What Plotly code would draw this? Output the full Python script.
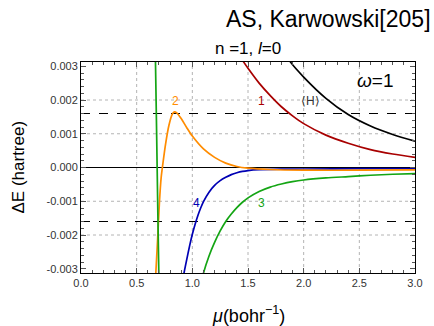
import plotly.graph_objects as go

# Energy deviation curves (hartree) versus range-separation parameter mu (1/bohr)
mu_H = [1.84, 1.88, 2.0, 2.2, 2.4, 2.6, 2.8, 3.0]
dE_H = [0.00335, 0.00313, 0.00268, 0.00205, 0.00157, 0.00123, 0.00098, 0.00078]

mu_1 = [1.42, 1.46, 1.5, 1.6, 1.7, 1.8, 1.9, 2.0, 2.2, 2.4, 2.6, 2.8, 3.0]
dE_1 = [0.00335, 0.00313, 0.00294, 0.00250, 0.00213, 0.00180, 0.00153, 0.00130,
        0.00096, 0.00072, 0.00053, 0.00040, 0.00030]

mu_2 = [0.665, 0.672, 0.69, 0.705, 0.72, 0.735, 0.76, 0.79, 0.82, 0.84, 0.86, 0.90,
        0.95, 1.0, 1.1, 1.2, 1.3, 1.4, 1.5, 1.7, 2.0, 2.5, 3.0]
dE_2 = [-0.0036, -0.00313, -0.0020, -0.0010, -0.0003, 0.0001, 0.0007, 0.00125,
        0.00158, 0.00165, 0.00162, 0.00145, 0.00118, 0.00093, 0.00055, 0.00030,
        0.00013, 0.00003, -0.00002, -0.00006, -0.00008, -0.00008, -0.00007]

mu_3a = [0.665, 0.669, 0.684, 0.699, 0.703]
dE_3a = [0.0036, 0.00313, 0.0, -0.00313, -0.0036]
mu_3b = [1.08, 1.10, 1.15, 1.20, 1.25, 1.30, 1.35, 1.40, 1.45, 1.50, 1.6, 1.7, 1.8, 1.9,
         2.0, 2.2, 2.4, 2.6, 2.8, 3.0]
dE_3b = [-0.00345, -0.00313, -0.00262, -0.00222, -0.00188, -0.00160, -0.00138, -0.00119,
         -0.00103, -0.00090, -0.00071, -0.00058, -0.00049, -0.00042, -0.00037, -0.00031,
         -0.00027, -0.00023, -0.00020, -0.00018]

mu_4 = [0.90, 0.925, 0.95, 0.975, 1.0, 1.025, 1.05, 1.075, 1.10, 1.15, 1.20, 1.25, 1.30,
        1.35, 1.40, 1.45, 1.5, 1.6, 1.8, 2.0, 2.5, 3.0]
dE_4 = [-0.0036, -0.00313, -0.00272, -0.00233, -0.00198, -0.00168, -0.00142, -0.00120,
        -0.00101, -0.00073, -0.00053, -0.00039, -0.00029, -0.00021, -0.000155, -0.000115,
        -0.00009, -0.000065, -0.00005, -0.000045, -0.000035, -0.00003]

x_ticks = [0.0, 0.5, 1.0, 1.5, 2.0, 2.5, 3.0]
x_tick_text = ["0.0", "0.5", "1.0", "1.5", "2.0", "2.5", "3.0"]
y_ticks = [-0.003, -0.002, -0.001, 0.0, 0.001, 0.002, 0.003]
y_tick_text = ["-0.003", "-0.002", "-0.001", "0.000", "0.001", "0.002", "0.003"]
x_grid = [0.5, 1.0, 1.5, 2.0, 2.5]
y_grid = [-0.002, -0.001, 0.001, 0.002]
threshold = 0.0016

RED = "#a80000"
ORANGE = "#ff8c00"
GREEN = "#14a514"
BLUE = "#0000b4"
FONT = "Liberation Sans, Arial, sans-serif"

fig = go.Figure()


def curve(x, y, color):
    fig.add_trace(go.Scatter(x=x, y=y, mode="lines",
                             line=dict(color=color, width=1.7, shape="spline", smoothing=0.8),
                             showlegend=False, hoverinfo="skip"))


curve(mu_H, dE_H, "black")
curve(mu_1, dE_1, RED)
curve(mu_4, dE_4, BLUE)
curve(mu_2, dE_2, ORANGE)
curve(mu_3a, dE_3a, GREEN)
curve(mu_3b, dE_3b, GREEN)

shapes = []
for gx in x_grid:
    shapes.append(dict(type="line", xref="x", yref="paper", x0=gx, x1=gx, y0=0, y1=1,
                       line=dict(color="#b4b4b4", width=1, dash="dot"), layer="below"))
for gy in y_grid:
    shapes.append(dict(type="line", xref="paper", yref="y", x0=0, x1=1, y0=gy, y1=gy,
                       line=dict(color="#b4b4b4", width=1, dash="dot"), layer="below"))
for ty in (threshold, -threshold):
    shapes.append(dict(type="line", xref="paper", yref="y", x0=0, x1=1, y0=ty, y1=ty,
                       line=dict(color="black", width=1, dash="dash"), layer="below"))
shapes.append(dict(type="line", xref="paper", yref="y", x0=0, x1=1, y0=0, y1=0,
                   line=dict(color="black", width=1), layer="below"))

annotations = [
    dict(text="AS, Karwowski[205]", xref="paper", yref="paper", x=1, y=1, xanchor="right",
         yanchor="bottom", xshift=18, yshift=28, font=dict(size=23, color="black", family=FONT),
         showarrow=False),
    dict(text="n =1, <i>l</i>=0", xref="paper", yref="paper", x=0.5, y=1, xanchor="center",
         yanchor="bottom", yshift=2, font=dict(size=17, color="black", family=FONT), showarrow=False),
    dict(text="ΔE (hartree)", xref="paper", yref="paper", x=0, y=0.5, xanchor="center",
         yanchor="middle", xshift=-63, textangle=-90, font=dict(size=17, color="black", family=FONT),
         showarrow=False),
    dict(text="<i>μ</i>(bohr<sup>−1</sup>)", xref="paper", yref="paper", x=0.5, y=0, xanchor="center",
         yanchor="middle", yshift=-41, font=dict(size=18, color="black", family=FONT), showarrow=False),
    dict(text="<i>ω</i>=1", x=2.64, y=0.00257, font=dict(size=19, color="black", family=FONT),
         showarrow=False),
    dict(text="1", x=1.62, y=0.00197, font=dict(size=12, color=RED, family=FONT), showarrow=False),
    dict(text="2", x=0.845, y=0.00197, font=dict(size=12, color=ORANGE, family=FONT), showarrow=False),
    dict(text="⟨H⟩", x=2.06, y=0.00197, font=dict(size=12, color="#333333", family=FONT), showarrow=False),
    dict(text="4", x=1.04, y=-0.00104, font=dict(size=12, color=BLUE, family=FONT), showarrow=False),
    dict(text="3", x=1.62, y=-0.00104, font=dict(size=12, color=GREEN, family=FONT), showarrow=False),
]

axis_common = dict(showline=True, linecolor="black", linewidth=1, mirror="allticks", showgrid=False,
                   zeroline=False, ticks="inside", ticklen=5, tickcolor="#555", tickwidth=1,
                   tickfont=dict(size=11, color="#333333", family=FONT))

fig.update_layout(
    width=434, height=326,
    margin=dict(l=81, r=11, t=62, b=53),
    paper_bgcolor="white", plot_bgcolor="white",
    xaxis=dict(range=[0, 3], tickmode="array", tickvals=x_ticks, ticktext=x_tick_text,
               minor=dict(ticks="inside", dtick=0.1, ticklen=3, tickcolor="#555"), **axis_common),
    yaxis=dict(range=[-0.003126, 0.003126], tickmode="array", tickvals=y_ticks, ticktext=y_tick_text,
               minor=dict(ticks="inside", dtick=0.0002, tick0=0, ticklen=3, tickcolor="#555"),
               **axis_common),
    shapes=shapes,
    annotations=annotations,
)

fig.write_html("out.html")
